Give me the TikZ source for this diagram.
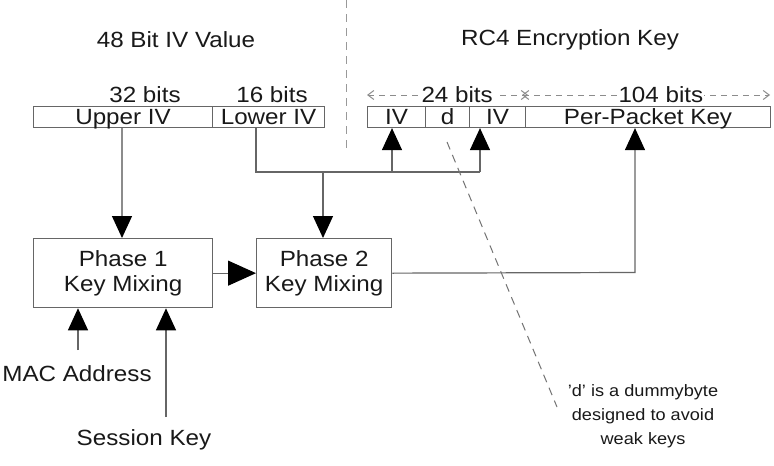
\documentclass[tikz,border=0pt]{standalone}
\usepackage{fontspec}
\setmainfont{Liberation Sans}[FakeStretch=1.1]
\usetikzlibrary{arrows.meta}
\begin{document}
\begin{tikzpicture}[x=1pt,y=-1pt,
  font=\fontsize{22}{25}\selectfont,
  field/.style={draw=black!60, line width=1.1pt, minimum height=21pt, text height=17.5pt, text depth=3.5pt, inner sep=0pt, anchor=north west, text=black!90},
  mixbox/.style={draw=black!60, line width=1.3pt, inner sep=0pt, align=center, anchor=north west, text=black!90},
  conn/.style={draw=black!60, line width=1.2pt},
  bigtip/.style={-{Triangle[length=22pt,width=20pt,fill=black,color=black]}},
  lbl/.style={text=black!90, inner sep=0pt},
  dim/.style={draw=black!45, line width=1pt, dash pattern=on 6pt off 5pt, {Straight Barb[length=6pt,width=9pt]}-{Straight Barb[length=6pt,width=9pt]}},
  note/.style={draw=black!55, line width=1pt, dash pattern=on 8pt off 6pt}
]
\useasboundingbox[fill=white] (0,0) rectangle (774,466);

% titles
\node[lbl] (t48) at (176,40) {48 Bit IV Value};
\node[lbl] (trc4) at (570,40) {RC4 Encryption Key};

% separator
\draw[note, black!40] (346,0) -- (346,150);

% left bar
\node[field, minimum width=179pt] (upper) at (33,106) {Upper IV};
\node[field, minimum width=112pt] (lower) at (212,106) {Lower IV};
\node[lbl] (b32) at (145,95) {32 bits};
\node[lbl] (b16) at (272,95) {16 bits};

% right bar
\node[field, minimum width=58pt] (iv1) at (367,106) {IV};
\node[field, minimum width=44pt] (dd) at (425,106) {d};
\node[field, minimum width=56pt] (iv2) at (469,106) {IV};
\node[field, minimum width=245pt] (ppk) at (525,106) {Per-Packet Key};

% dimension lines
\draw[dim] (367,95) -- (528,95) node[pos=0.56, fill=white, lbl, inner xsep=2pt] (b24) {24 bits};
\draw[dim] (522,95) -- (770,95) node[pos=0.56, fill=white, lbl, inner xsep=1pt] (b104) {104 bits};

% mixing boxes
\node[mixbox, minimum width=179pt, minimum height=69pt] (p1) at (33,238) {Phase 1\\Key Mixing};
\node[mixbox, minimum width=135pt, minimum height=69pt] (p2) at (256,238) {Phase 2\\Key Mixing};

% inputs
\node[lbl] (mac) at (77,374) {MAC Address};
\node[lbl] (sess) at (144,440) {Session Key};
\coordinate (macS) at (78,350);
\coordinate (sessS) at (166,417);

% connectors
\draw[conn, black!45, bigtip] (upper.south -| 122,0) -- (p1.north -| 122,0);
\coordinate (lv) at (256,127);
\coordinate (jn) at (323,172);
\draw[conn] (lv) -- (256,172) -- (480,172);
\draw[conn, bigtip] (392,172) -- (iv1.south -| 392,0);
\draw[conn, bigtip] (480,172) -- (iv2.south -| 480,0);
\draw[conn, bigtip] (jn) -- (p2.north -| jn);
\draw[conn, -{Triangle[length=28pt,width=25pt,fill=black,color=black]}] (p1.east) -- (p2.west);
\draw[conn, bigtip] (p2.east) -- (635,272.5) -- (ppk.south -| 635,0);
\draw[conn, bigtip] (macS) -- (p1.south -| macS);
\draw[conn, bigtip] (sessS) -- (p1.south -| sessS);

% note
\node[lbl, align=center, font=\fontsize{16.5}{24}\selectfont] (nt) at (643,416) {'d' is a dummybyte\\designed to avoid\\weak keys};
\draw[note] (447,142) -- (557,407);
\end{tikzpicture}
\end{document}
